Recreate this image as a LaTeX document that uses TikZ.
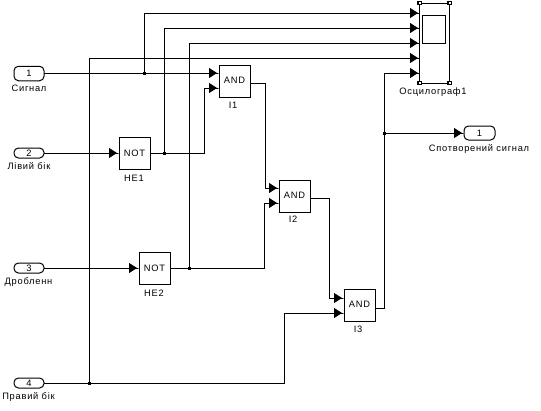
\documentclass[tikz,border=0pt]{standalone}
\usepackage{fontspec}
\setmainfont{Liberation Sans}[LetterSpace=8]
\usetikzlibrary{arrows.meta}
\tikzset{
  wire/.style={line width=1pt},
  sig/.style={wire,-{Triangle[length=8pt,width=10pt,sep=0pt]Rectangle[length=2pt,width=1pt]}},
  block/.style={draw,line width=1pt,fill=white,minimum width=31pt,minimum height=32pt,inner sep=0pt,outer sep=0pt,font=\fontsize{9.3}{10}\selectfont},
  port/.style={draw,line width=1pt,rounded corners=4.5pt,fill=white,minimum width=30pt,minimum height=10pt,inner sep=0pt,outer sep=0pt,font=\fontsize{9.3}{10}\selectfont},
  lab/.style={inner sep=0pt,outer sep=0pt,font=\fontsize{9.3}{10}\selectfont},
  jn/.style={fill=black,draw=none,minimum size=3pt,inner sep=0pt,outer sep=0pt},
  scopebox/.style={draw,line width=1pt,fill=white,inner sep=0pt,outer sep=0pt,minimum width=30pt,minimum height=80pt},
  screenbox/.style={draw,line width=1pt,fill=white,inner sep=0pt,outer sep=0pt,minimum width=22.5pt,minimum height=28pt},
  handle/.style={draw,line width=1.3pt,fill=white,inner sep=0pt,outer sep=0pt,minimum size=3.5pt},
}
\begin{document}
\begin{tikzpicture}[x=1pt,y=-1pt]
\useasboundingbox (0,0) rectangle (541,410);
\fill[white] (0,0) rectangle (541,410);
% ports
\node[port,minimum height=14.5pt] (in1) at (29,73.5) {\raisebox{1pt}{1}};
\node[port] (in2) at (29,153) {2};
\node[port] (in3) at (29,268) {3};
\node[port] (in4) at (29,383) {4};
\node[port,minimum width=31pt,minimum height=14pt] (out1) at (479.5,133) {1};
% blocks
\node[block] (not1) at (134.5,153) {NOT};
\node[block] (not2) at (154.5,268) {NOT};
\node[block] (and1) at (234.5,81) {\raisebox{1.5pt}{AND}};
\node[block] (and2) at (294.5,196) {\raisebox{1.5pt}{AND}};
\node[block] (and3) at (359.5,305.5) {\raisebox{1.5pt}{AND}};
\node[scopebox] (scope) at (434.7,43) {};
\node[screenbox] (screen) at (434.2,29) {};
\node[handle] (h1) at (419.7,3) {};
\node[handle] (h2) at (449.7,3) {};
\node[handle] (h3) at (419.7,83) {};
\node[handle] (h4) at (449.7,83) {};
% labels
\node[lab] (l1) at (29,88.5) {Сигнал};
\node[lab] (l2) at (29,166.5) {Лівий бік};
\node[lab] (l3) at (28.5,282) {Дробленн};
\node[lab] (l4) at (28.5,397) {Правий бік};
\node[lab] (l5) at (134,178) {НЕ1};
\node[lab] (l6) at (154,293) {НЕ2};
\node[lab] (l7) at (233,105) {I1};
\node[lab] (l8) at (293,219) {I2};
\node[lab] (l9) at (358,329) {I3};
\node[lab] (l10) at (433,92) {Осцилограф1};
\node[lab] (l11) at (479,149) {Спотворений сигнал};
% junctions
\node[jn] (j1) at (144,73) {};
\node[jn] (j2) at (164,153) {};
\node[jn] (j3) at (189,268) {};
\node[jn] (j4) at (89,383) {};
\node[jn] (j5) at (384,133) {};
% port coordinates
\coordinate (a1a) at (219,73);
\coordinate (a1b) at (219,88);
\coordinate (a1o) at (250,83);
\coordinate (a2a) at (279,188);
\coordinate (a2b) at (279,203);
\coordinate (a2o) at (310,198);
\coordinate (a3a) at (344,298);
\coordinate (a3b) at (344,313);
\coordinate (a3o) at (375,308);
\coordinate (s1) at (420,13);
\coordinate (s2) at (420,28);
\coordinate (s3) at (420,43);
\coordinate (s4) at (420,58);
\coordinate (s5) at (420,73);
% connectors
\draw[wire] (in1.east |- j1) -- (j1);
\draw[sig] (j1) -- (a1a);
\draw[sig] (j1) |- (s1);
\draw[sig] (in2) -- (not1);
\draw[wire] (not1) -- (j2);
\draw[sig] (j2) |- (s2);
\draw[sig] (j2) -| (204,88) -- (a1b);
\draw[sig] (in3) -- (not2);
\draw[wire] (not2) -- (j3);
\draw[sig] (j3) |- (s3);
\draw[sig] (j3) -| (264.5,203) -- (a2b);
\draw[wire] (in4) -- (j4);
\draw[sig] (j4) |- (s4);
\draw[sig] (j4) -| (284,313) -- (a3b);
\draw[sig] (a1o) -| (265,188) -- (a2a);
\draw[sig] (a2o) -| (329,298) -- (a3a);
\draw[wire] (a3o) -| (j5);
\draw[sig] (j5) |- (s5);
\draw[sig] (j5) -- (out1);
\end{tikzpicture}
\end{document}
